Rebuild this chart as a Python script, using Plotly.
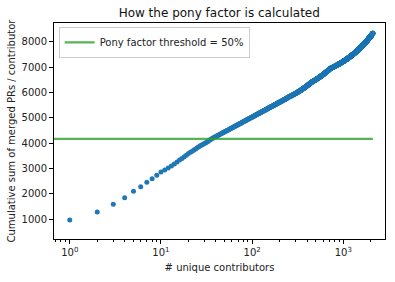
import numpy as np
import plotly.graph_objects as go

# Merged PRs of the top individual contributors (sorted, descending)
top_contributor_prs = [975, 310, 308, 257, 257, 178, 178, 139, 139, 119]
# Remaining contributors as (merged PRs per contributor, number of contributors)
pr_count_values = [79, 65, 45, 31, 23, 22, 21, 20, 19, 18, 17, 16, 15, 14, 13, 12,
                   11, 10, 9, 8, 7, 6, 5, 4, 3, 2, 1]
pr_count_contributors = [6, 4, 6, 10, 1, 2, 2, 2, 2, 3, 3, 3, 4, 4, 5, 6,
                         7, 9, 10, 13, 18, 24, 34, 60, 195, 275, 1390]
threshold_share = 0.5
title = "How the pony factor is calculated"
x_label = "# unique contributors"
y_label = "Cumulative sum of merged PRs / contributor"
legend_label = "Pony factor threshold = 50%"
y_ticks = [1000, 2000, 3000, 4000, 5000, 6000, 7000, 8000]
x_ticks = [1, 10, 100, 1000]
x_tick_text = ["10<sup>0</sup>", "10<sup>1</sup>", "10<sup>2</sup>", "10<sup>3</sup>"]

prs = np.concatenate([np.array(top_contributor_prs),
                      np.repeat(pr_count_values, pr_count_contributors)])
cum = np.cumsum(prs)
n = len(cum)
xs = np.arange(1, n + 1)
threshold = cum[-1] * threshold_share

x_range = [-0.173, 3.457]
y_range = [224, 8736]

minor_vals = []
for dec in [0.1, 1, 10, 100, 1000]:
    for m in range(2, 10):
        minor_vals.append(dec * m)

fig = go.Figure()
fig.add_trace(go.Scatter(
    x=xs, y=cum, mode="markers",
    marker=dict(color="#1f77b4", size=5, line=dict(width=0)),
    showlegend=False, hoverinfo="skip"))
fig.add_trace(go.Scatter(
    x=[10 ** (x_range[0] - 0.2), n], y=[threshold, threshold], mode="lines",
    line=dict(color="rgba(44,160,44,0.8)", width=2.2),
    name=legend_label))

font = "DejaVu Sans, sans-serif"
fig.update_layout(
    width=395, height=282,
    margin=dict(l=54, r=10, t=23, b=43),
    paper_bgcolor="white", plot_bgcolor="white",
    font=dict(family=font, size=10, color="#222"),
    title=dict(text=title, x=(53.5 + 385) / 2 / 395, xanchor="center",
               y=1 - 13 / 282, yanchor="middle",
               font=dict(size=12, color="#111")),
    showlegend=True,
    legend=dict(x=0.014, y=0.982, xanchor="left", yanchor="top",
                bgcolor="white", bordercolor="#cccccc", borderwidth=1,
                font=dict(size=10, color="#222"),
                tracegroupgap=0, itemwidth=30),
)
fig.update_xaxes(
    type="log", range=x_range,
    tickvals=x_ticks, ticktext=x_tick_text,
    ticks="outside", ticklen=4, tickwidth=1, tickcolor="black",
    minor=dict(tickvals=minor_vals, ticks="outside", ticklen=2, tickcolor="black",
               showgrid=False),
    showline=True, linecolor="black", linewidth=1, mirror=True,
    showgrid=False, zeroline=False,
    title=dict(text=x_label, font=dict(size=10), standoff=6),
)
fig.update_yaxes(
    range=y_range, tickvals=y_ticks,
    ticks="outside", ticklen=4, tickwidth=1, tickcolor="black",
    showline=True, linecolor="black", linewidth=1, mirror=True,
    showgrid=False, zeroline=False,
    title=dict(text=y_label, font=dict(size=10), standoff=4),
)

fig.write_html("out.html")
